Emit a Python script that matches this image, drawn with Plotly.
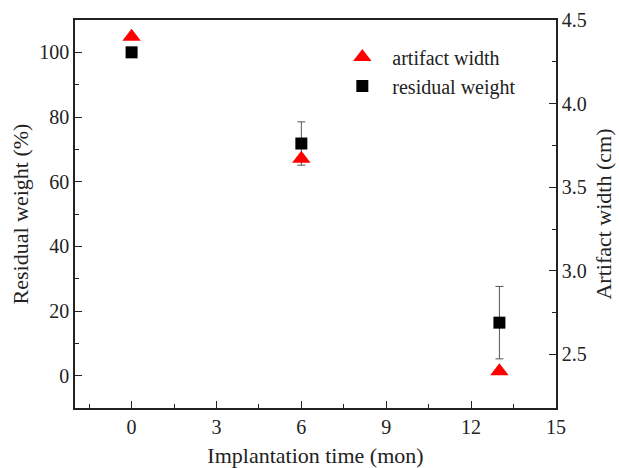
import plotly.graph_objects as go

# Data
months = [0, 6, 13]
residual_weight = [100.0, 71.8, 16.4]          # %
residual_err = [0.0, 6.7, 11.2]
artifact_width = [4.40, 3.67, 2.40]            # cm

x_ticks = [0, 3, 6, 9, 12, 15]
y_ticks = [0, 20, 40, 60, 80, 100]
y2_ticks = [2.5, 3.0, 3.5, 4.0, 4.5]

FONT = "Liberation Serif, Times New Roman, serif"

fig = go.Figure()

fig.add_trace(go.Scatter(
    x=months, y=artifact_width, yaxis="y2", mode="markers",
    name="artifact width",
    marker=dict(symbol="triangle-up", size=16, color="#ff0000", line=dict(width=0)),
))
fig.add_trace(go.Scatter(
    x=months, y=residual_weight, yaxis="y", mode="markers",
    name="residual weight",
    marker=dict(symbol="square", size=12, color="#000000", line=dict(width=0)),
    error_y=dict(type="data", array=residual_err, visible=True,
                 color="#555555", thickness=1, width=4),
))

axis_common = dict(
    showline=True, linecolor="#222222", linewidth=1.5,
    ticks="inside", ticklen=7, tickwidth=1.2, tickcolor="#222222",
    showgrid=False, zeroline=False, automargin=False,
    tickfont=dict(family=FONT, size=20, color="#222222"),
)

fig.update_layout(
    width=619, height=468,
    margin=dict(l=75, r=63, t=20, b=60),
    paper_bgcolor="white", plot_bgcolor="white",
    font=dict(family=FONT, size=20, color="#222222"),
    showlegend=True,
    legend=dict(x=0.535, y=0.955, xanchor="left", yanchor="top",
                bgcolor="rgba(0,0,0,0)", font=dict(family=FONT, size=20, color="#222222"),
                itemsizing="trace", itemwidth=50, tracegroupgap=0),
    xaxis=dict(
        **axis_common, range=[-2, 15], tickvals=x_ticks, mirror=True,
        minor=dict(ticks="inside", ticklen=4, tickwidth=1.2, tickcolor="#222222",
                   tickvals=[-1.5, 1.5, 4.5, 7.5, 10.5, 13.5]),
        title=dict(text="Implantation time (mon)", font=dict(family=FONT, size=22), standoff=14),
    ),
    yaxis=dict(
        **axis_common, range=[-10, 110], tickvals=y_ticks,
        minor=dict(ticks="inside", ticklen=4, tickwidth=1.2, tickcolor="#222222",
                   tickvals=[10, 30, 50, 70, 90]),
        title=dict(text="Residual weight (%)", font=dict(family=FONT, size=22), standoff=5),
    ),
    yaxis2=dict(
        **axis_common, range=[2.18, 4.5], tickvals=y2_ticks, tickformat=".1f",
        overlaying="y", side="right",
        minor=dict(ticks="inside", ticklen=4, tickwidth=1.2, tickcolor="#222222",
                   tickvals=[2.75, 3.25, 3.75, 4.25]),
        title=dict(text="Artifact width (cm)", font=dict(family=FONT, size=22), standoff=10),
    ),
)

fig.write_html(
    "out.html",
    config={"displayModeBar": False},
    post_script="document.body.style.margin='0px';document.body.style.overflow='hidden';",
)
